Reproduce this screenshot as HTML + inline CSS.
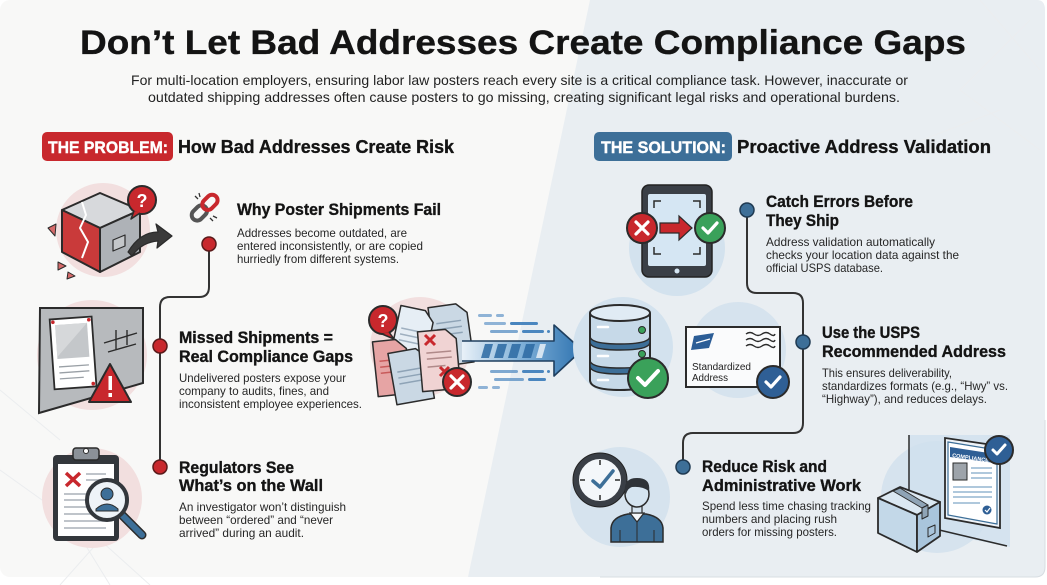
<!DOCTYPE html>
<html><head><meta charset="utf-8"><style>
html,body{margin:0;padding:0;background:#fff;}
svg{display:block;}
text{font-family:"Liberation Sans",sans-serif;}
.h{font-weight:bold;fill:#141414;stroke:#141414;stroke-width:0.35;}
.b{fill:#262626;font-size:12px;}
</style></head><body>
<svg width="1047" height="585" viewBox="0 0 1047 585" xmlns="http://www.w3.org/2000/svg">
<defs>
<linearGradient id="ag" x1="0" x2="1" y1="0" y2="0">
<stop offset="0" stop-color="#e9f1f8"/><stop offset="0.5" stop-color="#7fb0d8"/><stop offset="1" stop-color="#2f73b0"/>
</linearGradient>
</defs>
<!-- background -->
<rect x="0" y="0" width="1047" height="585" fill="#ffffff"/>
<rect x="0" y="0" width="1045" height="577" rx="10" fill="#f8f8f7"/>
<path d="M590,0 H1037 Q1045,0 1045,10 V567 Q1045,577 1035,577 H468 Z" fill="#e9eef2"/>
<path d="M1045,420 V567 Q1045,577 1035,577 H600" fill="none" stroke="#d7dde2" stroke-width="1"/>
<!-- faint deco lines -->
<g stroke="#ebedef" stroke-width="1" fill="none">
<path d="M0,390 L60,440 M0,470 L70,520 L110,585 M60,585 L100,540 L150,585"/>
<path d="M980,0 L1040,70 M1030,20 L960,90 L1040,150 M870,160 L1000,110"/>
</g>

<!-- title -->
<text x="80" y="54" class="h" font-size="34" stroke-width="1" textLength="886" lengthAdjust="spacingAndGlyphs">Don’t Let Bad Addresses Create Compliance Gaps</text>
<text x="131" y="85" fill="#222" font-size="14" textLength="777" lengthAdjust="spacingAndGlyphs">For multi-location employers, ensuring labor law posters reach every site is a critical compliance task. However, inaccurate or</text>
<text x="148" y="102" fill="#222" font-size="14" textLength="752" lengthAdjust="spacingAndGlyphs">outdated shipping addresses often cause posters to go missing, creating significant legal risks and operational burdens.</text>

<!-- section headers -->
<rect x="42" y="132" width="131" height="29" rx="5" fill="#c8282d"/>
<text x="48" y="153" fill="#fff" stroke="#fff" stroke-width="0.4" font-weight="bold" font-size="17" textLength="120" lengthAdjust="spacingAndGlyphs">THE PROBLEM:</text>
<text x="178" y="153" class="h" font-size="18" textLength="276" lengthAdjust="spacingAndGlyphs">How Bad Addresses Create Risk</text>
<rect x="594" y="132" width="138" height="29" rx="5" fill="#3d6f98"/>
<text x="601" y="153" fill="#fff" stroke="#fff" stroke-width="0.4" font-weight="bold" font-size="17" textLength="125" lengthAdjust="spacingAndGlyphs">THE SOLUTION:</text>
<text x="737" y="153" class="h" font-size="18" textLength="254" lengthAdjust="spacingAndGlyphs">Proactive Address Validation</text>

<!-- connectors -->
<path d="M209,250 V287 Q209,297 199,297 H170 Q160,297 160,307 V467" fill="none" stroke="#333" stroke-width="2"/>
<circle cx="209" cy="244" r="7" fill="#c8282d" stroke="#5a1a1a" stroke-width="1.5"/>
<circle cx="160" cy="346" r="7" fill="#c8282d" stroke="#5a1a1a" stroke-width="1.5"/>
<circle cx="160" cy="467" r="7" fill="#c8282d" stroke="#5a1a1a" stroke-width="1.5"/>
<path d="M747,216 V283 Q747,293 757,293 H793 Q803,293 803,303 V423 Q803,433 793,433 H693 Q683,433 683,443 V467" fill="none" stroke="#333" stroke-width="2"/>
<circle cx="747" cy="210" r="7" fill="#3d6f98" stroke="#1f3a52" stroke-width="1.5"/>
<circle cx="803" cy="342" r="7" fill="#3d6f98" stroke="#1f3a52" stroke-width="1.5"/>
<circle cx="683" cy="467" r="7" fill="#3d6f98" stroke="#1f3a52" stroke-width="1.5"/>

<!-- left text -->
<text x="237" y="215" class="h" font-size="16.5" textLength="204" lengthAdjust="spacingAndGlyphs">Why Poster Shipments Fail</text>
<text x="237" y="237" class="b" textLength="170" lengthAdjust="spacingAndGlyphs">Addresses become outdated, are</text>
<text x="237" y="250" class="b" textLength="186" lengthAdjust="spacingAndGlyphs">entered inconsistently, or are copied</text>
<text x="237" y="263" class="b" textLength="162" lengthAdjust="spacingAndGlyphs">hurriedly from different systems.</text>

<text x="179" y="343" class="h" font-size="16.5" textLength="154" lengthAdjust="spacingAndGlyphs">Missed Shipments =</text>
<text x="179" y="362" class="h" font-size="16.5" textLength="174" lengthAdjust="spacingAndGlyphs">Real Compliance Gaps</text>
<text x="179" y="382" class="b" textLength="167" lengthAdjust="spacingAndGlyphs">Undelivered posters expose your</text>
<text x="179" y="395" class="b" textLength="150" lengthAdjust="spacingAndGlyphs">company to audits, fines, and</text>
<text x="179" y="408" class="b" textLength="183" lengthAdjust="spacingAndGlyphs">inconsistent employee experiences.</text>

<text x="179" y="473" class="h" font-size="16.5" textLength="115" lengthAdjust="spacingAndGlyphs">Regulators See</text>
<text x="179" y="491" class="h" font-size="16.5" textLength="144" lengthAdjust="spacingAndGlyphs">What’s on the Wall</text>
<text x="179" y="511" class="b" textLength="167" lengthAdjust="spacingAndGlyphs">An investigator won’t distinguish</text>
<text x="179" y="524" class="b" textLength="154" lengthAdjust="spacingAndGlyphs">between “ordered” and “never</text>
<text x="179" y="537" class="b" textLength="125" lengthAdjust="spacingAndGlyphs">arrived” during an audit.</text>

<!-- right text -->
<text x="766" y="207" class="h" font-size="16.5" textLength="147" lengthAdjust="spacingAndGlyphs">Catch Errors Before</text>
<text x="766" y="226" class="h" font-size="16.5" textLength="73" lengthAdjust="spacingAndGlyphs">They Ship</text>
<text x="766" y="246" class="b" textLength="169" lengthAdjust="spacingAndGlyphs">Address validation automatically</text>
<text x="766" y="259" class="b" textLength="193" lengthAdjust="spacingAndGlyphs">checks your location data against the</text>
<text x="766" y="272" class="b" textLength="117" lengthAdjust="spacingAndGlyphs">official USPS database.</text>

<text x="822" y="338" class="h" font-size="16.5" textLength="98" lengthAdjust="spacingAndGlyphs">Use the USPS</text>
<text x="822" y="357" class="h" font-size="16.5" textLength="184" lengthAdjust="spacingAndGlyphs">Recommended Address</text>
<text x="822" y="377" class="b" textLength="130" lengthAdjust="spacingAndGlyphs">This ensures deliverability,</text>
<text x="822" y="390" class="b" textLength="186" lengthAdjust="spacingAndGlyphs">standardizes formats (e.g., “Hwy” vs.</text>
<text x="822" y="403" class="b" textLength="165" lengthAdjust="spacingAndGlyphs">“Highway”), and reduces delays.</text>

<text x="702" y="472" class="h" font-size="16.5" textLength="125" lengthAdjust="spacingAndGlyphs">Reduce Risk and</text>
<text x="702" y="491" class="h" font-size="16.5" textLength="159" lengthAdjust="spacingAndGlyphs">Administrative Work</text>
<text x="702" y="510" class="b" textLength="169" lengthAdjust="spacingAndGlyphs">Spend less time chasing tracking</text>
<text x="702" y="523" class="b" textLength="135" lengthAdjust="spacingAndGlyphs">numbers and placing rush</text>
<text x="702" y="536" class="b" textLength="135" lengthAdjust="spacingAndGlyphs">orders for missing posters.</text>

<!-- ICON 1: broken box -->
<circle cx="103" cy="230" r="47" fill="#f2dfdf"/>
<g stroke="#2b2b2b" stroke-width="2" stroke-linejoin="round">
<polygon points="62,210 100,193 140,210 100,228" fill="#d7d9dc"/>
<polygon points="62,210 100,228 100,272 62,252" fill="#c93a3a"/>
<polygon points="100,228 140,210 140,252 100,272" fill="#aeb2b7"/>
<polyline points="82,202 86,215 80,228 88,242 82,258" fill="none" stroke="#fff" stroke-width="2"/>
<polygon points="113,240 125,235 125,246 113,251" fill="#c4c7ca" stroke-width="1.2"/>
<polygon points="48,228 56,224 55,236" fill="#d66a6a" stroke-width="1"/>
<polygon points="58,262 66,266 58,270" fill="#d66a6a" stroke-width="1"/>
<polygon points="68,272 75,276 67,279" fill="#d66a6a" stroke-width="1"/>
<path d="M128,252 Q140,232 158,232 L156,224 L172,236 L157,248 L158,241 Q142,242 132,256 Z" fill="#3a3a3a" stroke-width="1.2"/>
<circle cx="142" cy="200" r="14" fill="#c8282d"/>
<path d="M134,211 L131,219 L140,213" fill="#c8282d" stroke-width="1.5"/>
</g>
<text x="142" y="207" fill="#fff" font-weight="bold" font-size="18" text-anchor="middle">?</text>

<!-- chain icon -->
<g transform="rotate(-45 205 208)" stroke="#2b2b2b" stroke-width="1.8" fill="none">
<rect x="189" y="202" width="17" height="11" rx="5.5" stroke="#555" stroke-width="4"/>
<rect x="204" y="202" width="17" height="11" rx="5.5" stroke="#c8282d" stroke-width="4"/>
</g>
<g stroke="#333" stroke-width="1.3"><path d="M195,196 L198,199 M199,193 L200,197 M213,221 L210,218 M217,218 L213,216"/></g>

<!-- ICON 2: wall poster -->
<circle cx="92" cy="355" r="55" fill="#f2dfdf"/>
<polygon points="40,308 143,308 143,383 39,413" fill="#b7babd" stroke="#2b2b2b" stroke-width="2"/>
<g transform="rotate(-4 72 352)">
<rect x="52" y="318" width="42" height="70" fill="#fff" stroke="#2b2b2b" stroke-width="1.8"/>
<rect x="57" y="324" width="32" height="34" fill="#c4c7ca"/>
<path d="M57,324 L89,324 L57,356 Z" fill="#d6d8da"/>
<g stroke="#9aa0a6" stroke-width="1.3"><path d="M58,366 H88 M58,372 H88 M58,378 H82"/></g>
<circle cx="55" cy="321" r="1.8" fill="#c8282d"/><circle cx="91" cy="321" r="1.8" fill="#c8282d"/><circle cx="91" cy="385" r="1.8" fill="#c8282d"/>
</g>
<g stroke="#2b2b2b" stroke-width="1.4"><path d="M104,343 L137,333 M108,352 L136,344 M116,330 L116,350 M127,330 L127,345"/></g>
<polygon points="110,364 131,402 89,402" fill="#c8282d" stroke="#2b2b2b" stroke-width="2" stroke-linejoin="round"/>
<rect x="108.5" y="376" width="3.5" height="14" fill="#fff"/><rect x="108.5" y="393" width="3.5" height="4" fill="#fff"/>

<!-- ICON 3: clipboard -->
<circle cx="92" cy="498" r="50" fill="#f2dfdf"/>
<rect x="53" y="455" width="66" height="86" rx="4" fill="#33373c"/>
<rect x="58" y="464" width="56" height="72" fill="#fff"/>
<rect x="73" y="448" width="26" height="12" rx="3" fill="#8b9198" stroke="#2b2b2b" stroke-width="1.5"/>
<circle cx="86" cy="451" r="2.5" fill="#fff" stroke="#2b2b2b"/>
<path d="M66,473 L80,486 M80,473 L66,486" stroke="#c8282d" stroke-width="3.5"/>
<g stroke="#aab1b8" stroke-width="1.5"><path d="M86,474 H106 M86,480 H106 M64,494 H90 M64,500 H88 M64,507 H88 M64,514 H92 M64,521 H106 M64,528 H106"/></g>
<path d="M119,512 L142,535" stroke="#2b2b2b" stroke-width="9" stroke-linecap="round"/>
<path d="M119,512 L142,535" stroke="#3d6f98" stroke-width="6" stroke-linecap="round"/>
<circle cx="107" cy="500" r="20" fill="#eef3f8" stroke="#33373c" stroke-width="4"/>
<circle cx="107" cy="494" r="6" fill="#3d6f98" stroke="#2b2b2b" stroke-width="1"/>
<path d="M96,509 Q107,499 118,509 L118,511 L96,511 Z" fill="#3d6f98" stroke="#2b2b2b" stroke-width="1"/>

<!-- documents cluster -->
<circle cx="420" cy="347" r="50" fill="#f2dfdf"/>
<g stroke="#2b2b2b" stroke-width="1.5" stroke-linejoin="round">
<g transform="rotate(-8 450 335)"><path d="M432,305 H460 L470,315 V365 H432 Z" fill="#cad8e4"/><path d="M438,322 H463 M438,328 H463 M438,334 H463" stroke="#8ea3b6"/></g>
<g transform="rotate(12 410 335)"><path d="M395,308 H420 L430,318 V365 H395 Z" fill="#e6eef5"/><path d="M400,330 H424 M400,336 H424 M400,342 H424" stroke="#9fb0c0"/></g>
<g transform="rotate(-6 392 365)"><path d="M375,340 H398 L408,350 V395 H375 Z" fill="#e6a4a4"/><path d="M380,360 H400 M380,366 H400 M380,372 H400" stroke="#c85a5a"/></g>
<g transform="rotate(-10 410 375)"><path d="M392,350 H420 L430,360 V402 H392 Z" fill="#cad8e4"/><path d="M398,370 H424 M398,376 H424 M398,382 H424" stroke="#8ea3b6"/></g>
<g transform="rotate(-5 440 360)"><path d="M420,330 H448 L458,340 V390 H420 Z" fill="#f0d3d3"/><path d="M427,352 H452 M427,358 H452 M427,366 H445" stroke="#b08a8a"/></g>
</g>
<path d="M425,335 L435,345 M435,335 L425,345" stroke="#c8282d" stroke-width="3"/>
<path d="M440,367 L449,376 M449,367 L440,376" stroke="#c8282d" stroke-width="3"/>
<circle cx="383" cy="320" r="14" fill="#c8282d" stroke="#2b2b2b" stroke-width="2"/>
<path d="M389,332 L394,339 L382,334" fill="#c8282d" stroke="#2b2b2b" stroke-width="1.5"/>
<text x="383" y="327" fill="#fff" font-weight="bold" font-size="18" text-anchor="middle">?</text>
<circle cx="457" cy="382" r="14" fill="#c8282d" stroke="#2b2b2b" stroke-width="2"/>
<path d="M451,376 L463,388 M463,376 L451,388" stroke="#fff" stroke-width="3.2" stroke-linecap="round"/>

<!-- big arrow -->
<g fill="#4a86bf">
<rect x="478" y="314" width="14" height="3" rx="1.5" opacity="0.6"/><rect x="496" y="314" width="8" height="3" rx="1.5" opacity="0.6"/>
<rect x="484" y="322" width="22" height="3" rx="1.5" opacity="0.6"/><rect x="510" y="322" width="28" height="3" rx="1.5"/>
<rect x="490" y="330" width="28" height="3" rx="1.5" opacity="0.7"/><rect x="522" y="330" width="22" height="3" rx="1.5"/><rect x="547" y="330" width="3" height="3" rx="1.5"/>
<rect x="490" y="370" width="28" height="3" rx="1.5" opacity="0.7"/><rect x="522" y="370" width="22" height="3" rx="1.5"/><rect x="547" y="370" width="3" height="3" rx="1.5"/>
<rect x="494" y="378" width="30" height="3" rx="1.5" opacity="0.7"/><rect x="528" y="378" width="18" height="3" rx="1.5"/>
<rect x="478" y="386" width="10" height="3" rx="1.5" opacity="0.6"/><rect x="492" y="386" width="8" height="3" rx="1.5" opacity="0.6"/>
</g>
<path d="M462,341 H554 V325 L582,350 L554,376 V361 H462" fill="url(#ag)" stroke="#1f3f5f" stroke-width="1.6" stroke-linejoin="round"/>
<g fill="#2c6aa3" opacity="0.85">
<polygon points="485,344 493,344 489,358 481,358"/><polygon points="498,344 507,344 503,358 494,358"/><polygon points="512,344 521,344 517,358 508,358"/><polygon points="526,344 535,344 531,358 522,358"/><polygon points="540,344 546,344 542,358 536,358" fill="#e9f1f8"/>
</g>

<!-- database -->
<circle cx="623" cy="347" r="50" fill="#d3e2ee"/>
<g stroke="#2b2b2b" stroke-width="2">
<path d="M590,313 V380 Q590,390 620,390 Q650,390 650,380 V313" fill="#c6d9e8"/>
<ellipse cx="620" cy="313" rx="30" ry="8" fill="#e0ebf4"/>
<path d="M590,336 Q590,344 620,344 Q650,344 650,336 V342 Q650,350 620,350 Q590,350 590,342 Z" fill="#3d6f98" stroke-width="1.5"/>
<path d="M590,360 Q590,368 620,368 Q650,368 650,360 V366 Q650,374 620,374 Q590,374 590,366 Z" fill="#3d6f98" stroke-width="1.5"/>
</g>
<g stroke="#fff" stroke-width="2.5" stroke-linecap="round"><path d="M598,327 H608 M598,356 H608 M598,380 H608"/></g>
<circle cx="642" cy="330" r="3.5" fill="#3aa15a" stroke="#2b2b2b"/><circle cx="642" cy="354" r="3.5" fill="#3aa15a" stroke="#2b2b2b"/>
<circle cx="648" cy="378" r="20" fill="#3aa15a" stroke="#2b2b2b" stroke-width="2"/>
<path d="M638,378 L645,385 L658,371" fill="none" stroke="#fff" stroke-width="4" stroke-linecap="round" stroke-linejoin="round"/>

<!-- tablet -->
<circle cx="677" cy="248" r="48" fill="#d3e2ee"/>
<rect x="642" y="185" width="70" height="92" rx="7" fill="#3a3f46" stroke="#222" stroke-width="1.5"/>
<rect x="648" y="194" width="58" height="72" rx="2" fill="#d5e6f3"/>
<circle cx="677" cy="271" r="2.5" fill="#d5e6f3"/>
<g stroke="#2b2b2b" stroke-width="1.5" fill="none"><path d="M654,208 V201 H661 M693,201 H700 V208 M654,247 V254 H661 M693,254 H700 V247"/></g>
<polygon points="660,223 679,223 679,216 692,228 679,240 679,233 660,233" fill="#c8282d" stroke="#2b2b2b" stroke-width="1.2"/>
<circle cx="642" cy="228" r="15" fill="#c8282d" stroke="#2b2b2b" stroke-width="2"/>
<path d="M636,222 L648,234 M648,222 L636,234" stroke="#fff" stroke-width="3.2" stroke-linecap="round"/>
<circle cx="710" cy="228" r="15" fill="#3aa15a" stroke="#2b2b2b" stroke-width="2"/>
<path d="M703,228 L708,233 L717,223" fill="none" stroke="#fff" stroke-width="3.2" stroke-linecap="round" stroke-linejoin="round"/>

<!-- envelope -->
<circle cx="738" cy="350" r="48" fill="#d6e3ee"/>
<rect x="686" y="327" width="94" height="60" fill="#fafbfc" stroke="#2b2b2b" stroke-width="2"/>
<polygon points="694,336 714,333 709,348 691,350" fill="#2b5d96"/>
<path d="M696,343 L710,339" stroke="#fff" stroke-width="1.2"/>
<g stroke="#2b2b2b" stroke-width="1.4" fill="none"><path d="M746,334 q4,-3 8,0 t8,0 t8,0 t5,0 M746,340 q4,-3 8,0 t8,0 t8,0 t5,0 M746,346 q4,-3 8,0 t8,0 t8,0 t5,0"/></g>
<text x="692" y="370" fill="#222" font-size="10" textLength="59" lengthAdjust="spacingAndGlyphs">Standardized</text>
<text x="692" y="381" fill="#222" font-size="10" textLength="36" lengthAdjust="spacingAndGlyphs">Address</text>
<circle cx="773" cy="382" r="16" fill="#2f5f95" stroke="#2b2b2b" stroke-width="2"/>
<path d="M766,382 L771,387 L780,377" fill="none" stroke="#fff" stroke-width="3.2" stroke-linecap="round" stroke-linejoin="round"/>

<!-- clock + person -->
<circle cx="620" cy="497" r="50" fill="#d6e3ee"/>
<circle cx="600" cy="480" r="24" fill="#f4f7fa" stroke="#3a3f46" stroke-width="6"/>
<circle cx="600" cy="480" r="27" fill="none" stroke="#222" stroke-width="1"/>
<g stroke="#2b2b2b" stroke-width="1.5"><path d="M600,460 V465 M600,495 V500 M580,480 H585 M615,480 H620"/></g>
<path d="M593,481 L600,487 L613,471" fill="none" stroke="#3d6f98" stroke-width="3.5" stroke-linecap="round" stroke-linejoin="round"/>
<path d="M611,542 V528 Q612,517 628,514 H646 Q662,517 663,528 V542 Z" fill="#3d6f98" stroke="#2b2b2b" stroke-width="1.5"/>
<path d="M630,513 L637,522 L644,513 Z" fill="#f4f7fa" stroke="#2b2b2b" stroke-width="1.2"/>
<path d="M637,522 V542 M620,530 V542 M654,530 V542" stroke="#2b2b2b" stroke-width="1"/>
<rect x="632" y="503" width="10" height="10" fill="#d5e4f0" stroke="#2b2b2b" stroke-width="1.2"/>
<ellipse cx="637" cy="494" rx="12" ry="13" fill="#d5e4f0" stroke="#2b2b2b" stroke-width="1.5"/>
<path d="M625,493 Q623,478 637,478 Q651,478 649,491 Q642,486 632,487 Q628,488 626,494 Z" fill="#2f3338"/>

<!-- wall / poster / box -->
<circle cx="937" cy="497" r="56" fill="#d6e3ee"/>
<polygon points="909,435 1010,435 1010,547 909,527" fill="#cfe0ee" opacity="0.8"/>
<path d="M909,435 V490 M935,529 L1007,546" stroke="#2b2b2b" stroke-width="1.5"/>
<polygon points="945,438 1000,446 1000,528 945,518" fill="#eef3f8" stroke="#2b2b2b" stroke-width="1.8"/>
<polygon points="948,442 997,450 997,524 948,515" fill="#fff" stroke="#3d6f98" stroke-width="1.2"/>
<polygon points="950,447 995,454 995,463 950,457" fill="#2f5f95"/>
<text x="952" y="457" fill="#fff" font-size="5.5" font-weight="bold" transform="rotate(8 952 457)">COMPLIANCE</text>
<rect x="953" y="463" width="14" height="17" fill="#9ea4aa" stroke="#2b2b2b" stroke-width="1"/>
<g stroke="#7fa6c6" stroke-width="1.2"><path d="M971,468 H992 M971,473 H992 M971,478 H992 M953,487 H992 M953,492 H992 M953,497 H992 M953,503 H980"/></g>
<circle cx="987" cy="510" r="4.5" fill="#2f5f95"/>
<path d="M985,510 L987,512 L990,508" fill="none" stroke="#fff" stroke-width="1.2"/>
<circle cx="999" cy="450" r="14" fill="#2f5f95" stroke="#2b2b2b" stroke-width="2"/>
<path d="M993,450 L997,454 L1005,445" fill="none" stroke="#fff" stroke-width="3" stroke-linecap="round" stroke-linejoin="round"/>
<g stroke="#2b2b2b" stroke-width="1.8" stroke-linejoin="round">
<polygon points="878,498 900,487 940,502 917,515" fill="#dbe8f2"/>
<polygon points="878,498 917,515 917,552 878,533" fill="#c3d8e8"/>
<polygon points="917,515 940,502 940,536 917,552" fill="#a9c5dc"/>
<polygon points="893,491 900,488 928,505 922,508" fill="#8fa4b6" stroke-width="1"/>
<polygon points="922,508 928,505 928,516 922,519" fill="#8fa4b6" stroke-width="1"/>
<polygon points="928,528 935,525 935,533 928,537" fill="none" stroke-width="1"/>
</g>
</svg>
</body></html>
